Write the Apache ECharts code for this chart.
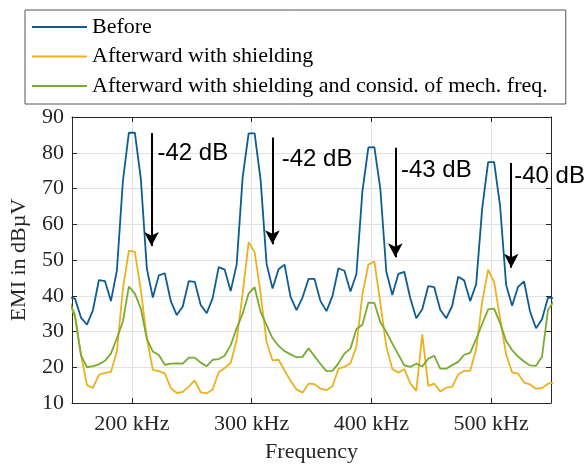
<!DOCTYPE html>
<html>
<head>
<meta charset="utf-8">
<script src="https://cdn.jsdelivr.net/npm/echarts@6/dist/echarts.min.js"></script>
<style>
  html, body { margin: 0; padding: 0; background: #fff; }
  #chart { width: 586px; height: 468px; }
</style>
</head>
<body>
<div id="chart"></div>
<script>
// frequency in kHz (sample points)
const freq = [
  147.5, 152.5, 157.5, 162.5, 167.5, 172.5, 177.5, 182.5, 187.5, 192.5,
  197.5, 202.5, 207.5, 212.5, 217.5, 222.5, 227.5, 232.5, 237.5, 242.5,
  247.5, 252.5, 257.5, 262.5, 267.5, 272.5, 277.5, 282.5, 287.5, 292.5,
  297.5, 302.5, 307.5, 312.5, 317.5, 322.5, 327.5, 332.5, 337.5, 342.5,
  347.5, 352.5, 357.5, 362.5, 367.5, 372.5, 377.5, 382.5, 387.5, 392.5,
  397.5, 402.5, 407.5, 412.5, 417.5, 422.5, 427.5, 432.5, 437.5, 442.5,
  447.5, 452.5, 457.5, 462.5, 467.5, 472.5, 477.5, 482.5, 487.5, 492.5,
  497.5, 502.5, 507.5, 512.5, 517.5, 522.5, 527.5, 532.5, 537.5, 542.5,
  547.5, 552.5
]

const before = [
  39.6, 39.2, 33.9, 31.9, 36.0, 44.4, 44.1, 38.5, 47.1, 72.1,
  85.6, 85.6, 72.6, 47.6, 39.5, 45.7, 46.3, 38.5, 34.6, 37.0,
  44.1, 43.9, 37.4, 35.1, 39.4, 48.0, 47.3, 41.3, 48.7, 73.1,
  85.4, 85.4, 72.4, 48.9, 42.0, 47.4, 48.7, 39.7, 36.0, 39.5,
  44.7, 44.7, 38.5, 35.7, 39.9, 47.7, 47.0, 41.2, 46.1, 69.2,
  81.5, 81.6, 69.8, 46.7, 40.2, 46.1, 46.7, 39.3, 33.7, 36.2,
  42.7, 42.4, 36.1, 33.7, 37.2, 45.3, 44.3, 38.5, 43.2, 64.3,
  77.4, 77.4, 65.1, 43.1, 37.2, 42.5, 44.0, 35.6, 30.9, 33.4,
  39.5, 39.3
]

const shielded = [
  38.5, 34.0, 23.5, 15.0, 14.2, 17.9, 18.4, 18.7, 24.4, 41.9,
  52.6, 52.3, 41.5, 28.1, 19.3, 18.9, 18.3, 14.2, 12.8, 13.1,
  14.6, 16.3, 13.0, 12.7, 13.8, 18.6, 19.8, 21.2, 27.6, 40.6,
  55.0, 52.2, 40.6, 27.0, 21.9, 22.1, 19.1, 16.2, 13.8, 12.9,
  15.4, 15.3, 14.0, 13.6, 14.7, 19.6, 20.1, 21.1, 25.8, 40.4,
  48.7, 49.6, 37.9, 25.8, 19.5, 18.5, 19.5, 15.5, 13.4, 29.2,
  14.8, 15.4, 13.2, 14.3, 14.5, 18.0, 19.0, 19.0, 25.1, 38.3,
  47.3, 43.8, 33.6, 23.6, 18.6, 18.2, 15.7, 15.2, 14.0, 14.2,
  15.4, 15.7
]

const shieldedMech = [
  38.8, 34.5, 23.3, 20.0, 20.3, 20.8, 21.8, 23.8, 28.1, 32.8,
  42.6, 40.6, 36.4, 27.9, 24.4, 23.4, 20.7, 21.0, 21.1, 21.0,
  22.7, 22.7, 21.3, 20.3, 22.1, 22.3, 23.2, 26.2, 30.9, 35.0,
  40.6, 42.4, 35.5, 31.8, 28.1, 26.0, 24.5, 23.6, 22.8, 22.9,
  25.3, 23.1, 20.9, 18.9, 19.0, 21.1, 23.8, 25.2, 30.7, 31.9,
  38.1, 38.0, 32.6, 29.9, 26.6, 23.6, 20.5, 20.1, 21.0, 20.2,
  22.4, 23.2, 19.6, 19.6, 20.6, 21.5, 23.5, 24.0, 27.9, 32.1,
  36.2, 36.4, 32.3, 27.4, 24.8, 23.0, 21.6, 20.5, 20.4, 23.0,
  36.1, 38.5
]

const seriesNames = [
  'Before',
  'Afterward with shielding',
  'Afterward with shielding and consid. of mech. freq.'
]
const xTicks = [200, 300, 400, 500]

// reduction arrows: x position, arrow top, arrow tip (data units)
const arrowX = [216.4, 317.4, 420.0, 516.8]
const arrowTop = [85.5, 84.3, 81.4, 77.1]
const arrowTip = [53.9, 54.4, 50.8, 47.8]
const labelText = ['-42 dB', '-42 dB', '-43 dB', '-40 dB']
const labelX = [221.4, 325.1, 424.7, 519.3]
const labelY = [79.9, 78.2, 75.2, 73.3]

const serif = 'Liberation Serif'
const axisColor = '#262626'

const zip = (xs, ys) => xs.map((x, i) => [x, ys[i]])

const arrowLines = arrowX.map((x, i) => [
  { coord: [x, arrowTop[i]], symbol: 'none' },
  { coord: [x, arrowTip[i]], symbol: 'arrow' }
])

const dbLabels = labelText.map((t, i) => ({
  coord: [labelX[i], labelY[i]],
  value: t
}))

const lineSeries = (name, values, color) => ({
  name: name,
  type: 'line',
  data: zip(freq, values),
  symbol: 'none',
  clip: true,
  lineStyle: { color: color, width: 1.8 },
  itemStyle: { color: color },
  emphasis: { disabled: true },
  animation: false
})

const chart = echarts.init(document.getElementById('chart'))

const series = [
  lineSeries(seriesNames[0], before, '#0c5c95'),
  lineSeries(seriesNames[1], shielded, '#edb120'),
  lineSeries(seriesNames[2], shieldedMech, '#77ac30')
]

series[0].markLine = {
  silent: true,
  symbolSize: [11, 14],
  lineStyle: { color: '#000', width: 2, type: 'solid' },
  label: { show: false },
  data: arrowLines
}
series[0].markPoint = {
  silent: true,
  symbol: 'circle',
  symbolSize: 0,
  label: {
    show: true,
    position: 'right',
    distance: 0,
    formatter: p => p.value,
    fontFamily: 'Liberation Sans',
    fontSize: 24,
    color: '#000'
  },
  data: dbLabels
}

const option = {
  animation: false,
  grid: { left: 69, right: 35, top: 117, bottom: 63 },
  legend: {
    orient: 'vertical',
    left: 25,
    top: 10,
    padding: [6, 8, 7, 7],
    icon: 'rect',
    itemWidth: 55,
    itemHeight: 2,
    itemGap: 7.5,
    borderColor: '#555',
    borderWidth: 1,
    backgroundColor: '#fff',
    textStyle: {
      fontFamily: serif,
      fontSize: 22,
      lineHeight: 20,
      color: '#000',
      padding: [0, 10, 0, 0]
    },
    data: seriesNames
  },
  xAxis: [
    {
      type: 'value',
      min: 150,
      max: 550,
      name: 'Frequency',
      nameLocation: 'middle',
      nameGap: 38,
      nameTextStyle: { fontFamily: serif, fontSize: 22, color: axisColor },
      axisLine: { onZero: false, lineStyle: { color: axisColor } },
      axisTick: { inside: true, length: 5, customValues: xTicks, lineStyle: { color: axisColor } },
      axisLabel: {
        customValues: xTicks,
        margin: 10,
        fontFamily: serif,
        fontSize: 22,
        color: axisColor,
        formatter: v => v + ' kHz'
      },
      splitLine: { show: true, lineStyle: { color: '#e2e2e2' } }
    },
    {
      type: 'value',
      position: 'top',
      min: 150,
      max: 550,
      axisLine: { onZero: false, lineStyle: { color: axisColor } },
      axisTick: { inside: true, length: 5, customValues: xTicks, lineStyle: { color: axisColor } },
      axisLabel: { show: false },
      splitLine: { show: false }
    }
  ],
  yAxis: [
    {
      type: 'value',
      min: 10,
      max: 90,
      interval: 10,
      name: 'EMI in dB\u00b5V',
      nameLocation: 'middle',
      nameGap: 42,
      nameTextStyle: { fontFamily: serif, fontSize: 22, color: axisColor },
      axisLine: { show: true, onZero: false, lineStyle: { color: axisColor } },
      axisTick: { show: true, inside: true, length: 5, lineStyle: { color: axisColor } },
      axisLabel: { margin: 8, fontFamily: serif, fontSize: 22, color: axisColor },
      splitLine: { show: true, lineStyle: { color: '#e2e2e2' } }
    },
    {
      type: 'value',
      position: 'right',
      min: 10,
      max: 90,
      interval: 10,
      axisLine: { show: true, onZero: false, lineStyle: { color: axisColor } },
      axisTick: { show: true, inside: true, length: 5, lineStyle: { color: axisColor } },
      axisLabel: { show: false },
      splitLine: { show: false }
    }
  ],
  series: series
}

chart.setOption(option)
</script>
</body>
</html>
